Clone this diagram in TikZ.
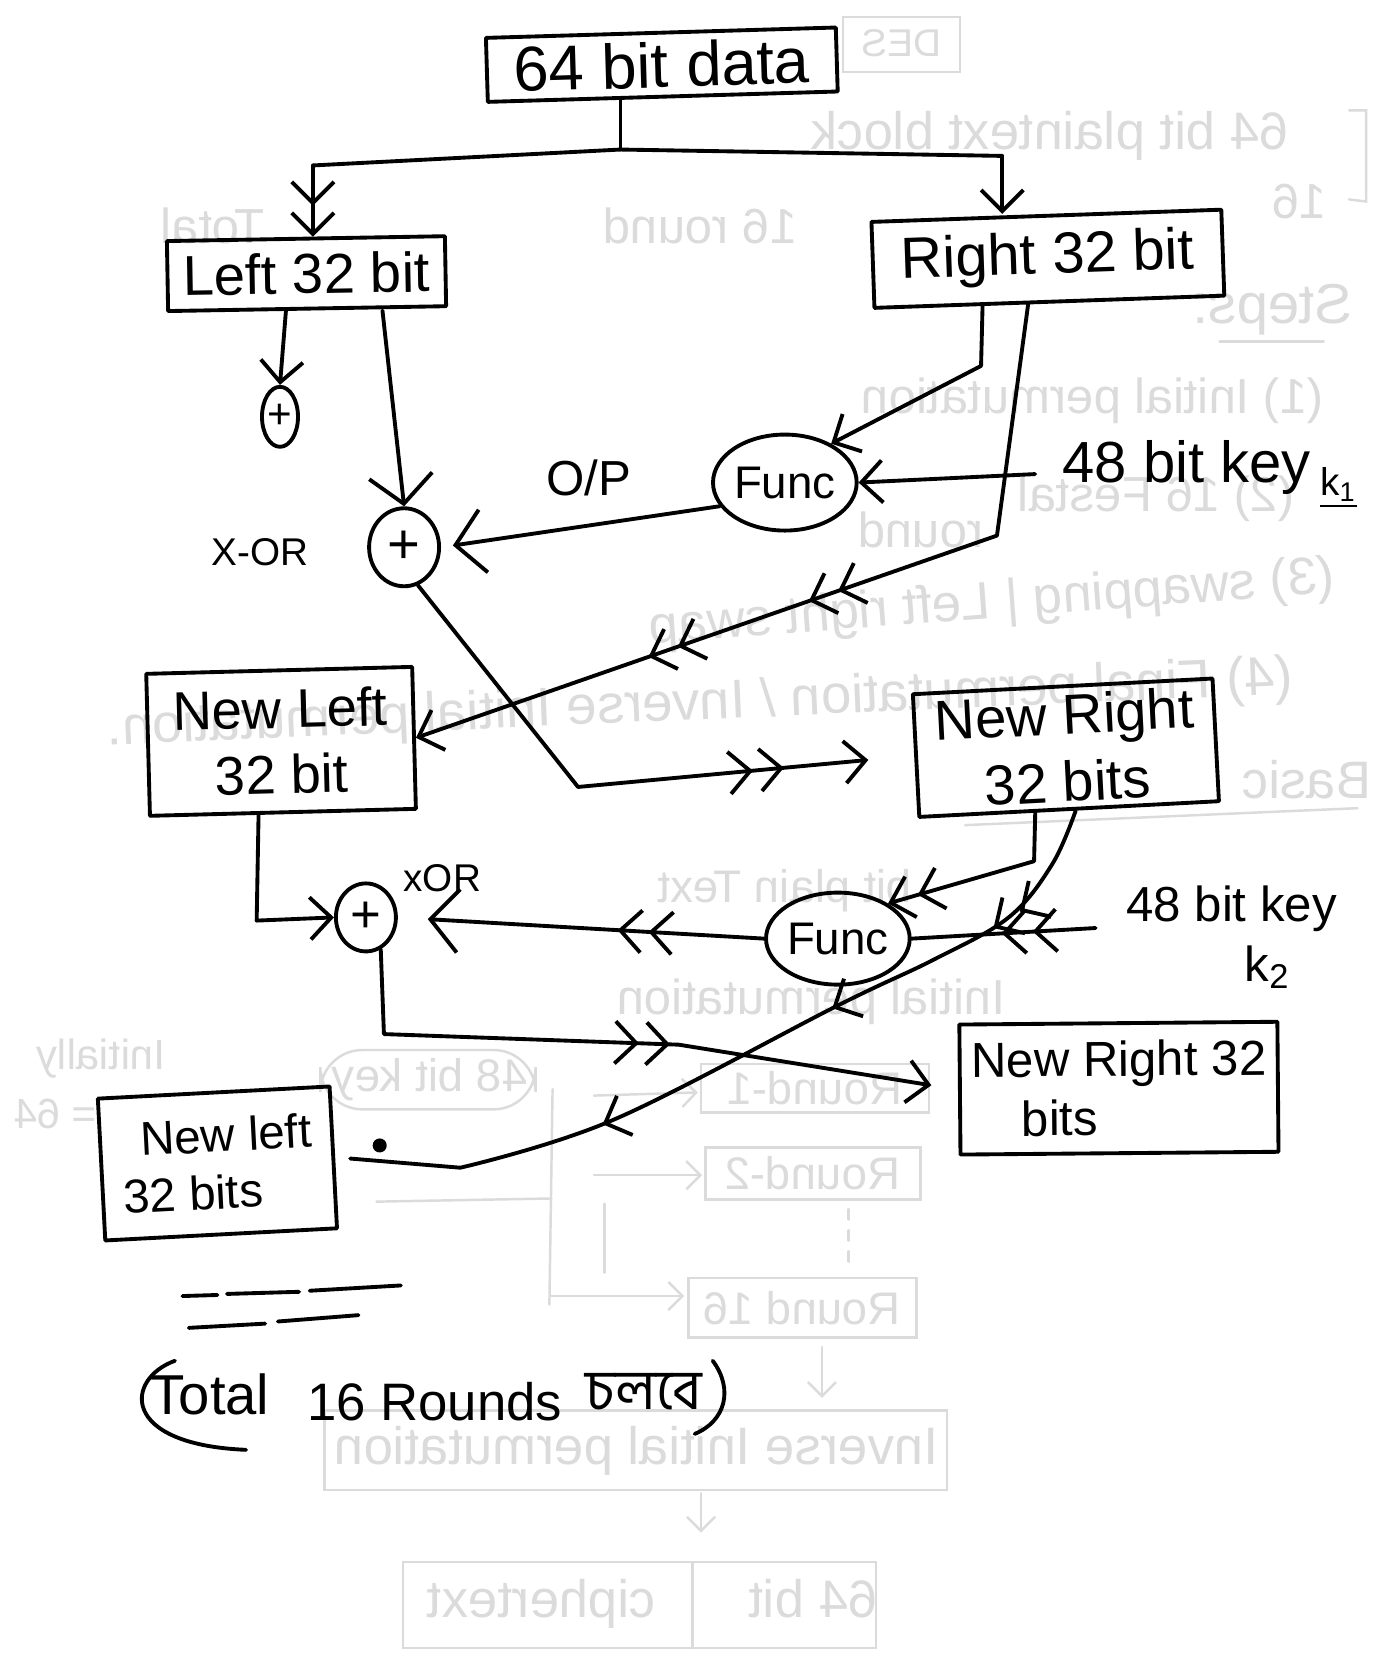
\documentclass[tikz,border=0pt]{standalone}
\usepackage{fontspec}
\setmainfont{Liberation Sans}
\newfontfamily\bnfont[Script=Bengali]{Hind Siliguri}
\usepackage{graphicx}
\usetikzlibrary{arrows.meta,calc,shapes.geometric,decorations.markings}

\definecolor{ghost}{gray}{0.86}
\tikzset{
  fs/.style={font=\fontsize{#1pt}{\dimexpr #1pt*6/5\relax}\selectfont},
  ink/.style={line width=1.1pt, line cap=round, line join=round},
  box/.style={draw, ink, rectangle, inner sep=2pt, align=center},
  ring/.style={draw, ink, ellipse, inner sep=0pt},
  lbl/.style={inner sep=1pt},
  gh/.style={draw=ghost, line width=0.7pt, line cap=round},
  gtext/.style={text=ghost, inner sep=0pt},
  hd/.tip={Straight Barb[length=6pt,width=12pt]},
  big/.tip={Straight Barb[length=8pt,width=18pt]},
  dbl/.tip={Straight Barb[length=6pt,width=12pt,sep=1.5pt]Straight Barb[length=6pt,width=12pt]},
  chev/.style={postaction={decorate,decoration={markings,mark=at position #1 with {\arrow{dbl}}}}},
  one/.style={postaction={decorate,decoration={markings,mark=at position #1 with {\arrow{hd}}}}},
}

\begin{document}
\begin{tikzpicture}[x=0.0106cm, y=-0.0106cm]
\fill[white] (0,0) rectangle (1296,1568);
\useasboundingbox (0,0) rectangle (1296,1568);

% ---------- faint notes showing through from the back of the sheet ----------
\draw[gh] (795,16) rectangle (905,68);
\node[gtext, fs=11] (gdes) at (850,41) {\reflectbox{DES}};
\node[gtext, fs=15] (gplain) at (990,128) {\reflectbox{64 bit plaintext block}};
\draw[gh] (1272,104) -- (1288,104) -- (1288,190) -- (1272,188);
\node[gtext, fs=14] (gsixteen) at (1225,190) {\reflectbox{16}};
\node[gtext, fs=14] (gtotal) at (660,213) {\reflectbox{16 round}};
\node[gtext, fs=14] (gtotal2) at (200,213) {\reflectbox{Total}};
\node[gtext, fs=16] (gsteps) at (1200,292) {\reflectbox{Steps:}};
\draw[gh] (1150,322) -- (1248,322);
\node[gtext, fs=14] (gip) at (1030,378) {\reflectbox{(1) Initial permutation}};
\node[gtext, fs=14] (gfr) at (1090,470) {\reflectbox{(2) 16 Festal}};
\node[gtext, fs=14] (grnd) at (868,500) {\reflectbox{round}};
\node[gtext, fs=15, rotate=4.3] (gswap) at (935,570) {\reflectbox{(3) swapping | Left right swap}};
\node[gtext, fs=15.5, rotate=2.5] (gfp) at (660,665) {\reflectbox{(4) Final permutation / Inverse Initial permutation.}};
\node[gtext, fs=15] (gbasic) at (1232,735) {\reflectbox{Basic}};
\draw[gh] (910,778) -- (1280,762);
\node[gtext, fs=13] (gpt) at (740,840) {\reflectbox{bit plain Text}};
\node[gtext, fs=14] (ginit) at (765,945) {\reflectbox{Initial permutation}};
\node[gtext, fs=12] (ginitially) at (95,998) {\reflectbox{Initially}};
\node[gtext, fs=12] (geq) at (52,1050) {\reflectbox{= 64}};
\draw[gh, rounded corners=12pt] (302,990) rectangle (505,1046);
\node[gtext, fs=13] (gkey) at (405,1018) {\reflectbox{48 bit key}};
\draw[gh] (661,1003) rectangle (876,1049);
\node[gtext, fs=13] (gr1) at (768,1026) {\reflectbox{Round-1}};
\draw[gh] (665,1082) rectangle (868,1131);
\node[gtext, fs=13] (gr2) at (766,1106) {\reflectbox{Round-2}};
\draw[gh] (649,1205) rectangle (864,1261);
\node[gtext, fs=13] (gr16) at (756,1233) {\reflectbox{Round 16}};
\draw[gh] (306,1330) rectangle (893,1405);
\node[gtext, fs=15] (ginv) at (600,1368) {\reflectbox{Inverse Initial permutation}};
\draw[gh] (380,1473) rectangle (826,1554);
\draw[gh] (653,1473) -- (653,1554);
\node[gtext, fs=15] (gct) at (615,1512) {\reflectbox{64 bit \hspace{1.2em} ciphertext}};
\draw[gh] (521,1027) -- (518,1230);
\draw[gh, -{Straight Barb[length=4pt,width=8pt]}] (560,1033) -- (658,1030);
\draw[gh, -{Straight Barb[length=4pt,width=8pt]}] (560,1108) -- (662,1108);
\draw[gh] (355,1133) -- (520,1130);
\draw[gh, -{Straight Barb[length=4pt,width=8pt]}] (520,1222) -- (645,1222);
\draw[gh] (570,1135) -- (570,1200);
\draw[gh, dashed] (800,1140) -- (800,1195);
\draw[gh, -{Straight Barb[length=4pt,width=8pt]}] (775,1270) -- (775,1318);
\draw[gh, -{Straight Barb[length=4pt,width=8pt]}] (661,1408) -- (661,1445);

% ---------- blocks ----------
\node[box, rotate=1.7, minimum width=3.50cm, minimum height=0.64cm, fs=18] (data) at (624,61) {64 bit data};
\node[box, rotate=1, minimum width=2.78cm, minimum height=0.70cm, fs=16] (left) at (289,258) {Left 32 bit};
\node[box, rotate=2, minimum width=3.50cm, minimum height=0.86cm, fs=16.5] (right) at (988,244) {Right 32 bit};
\node[box, rotate=1.5, minimum width=2.66cm, minimum height=1.42cm, fs=15.5] (nl1) at (265,699) {New Left\\32 bit};
\node[box, rotate=3, minimum width=3.00cm, minimum height=1.17cm, fs=16] (nr1) at (1005,705) {New Right\\32 bits};
\node[box, rotate=0.5, minimum width=3.18cm, minimum height=1.30cm, fs=14, align=left] (nr2) at (1055,1026) {New Right 32\\\hspace*{0.5cm}bits};
\node[box, rotate=3, minimum width=2.32cm, minimum height=1.42cm, fs=13.5, align=left] (nl2) at (205,1097) {\hspace*{0.2cm}New left\\32 bits};

% ---------- XOR rings and round functions ----------
\node[ring, minimum width=0.70cm, minimum height=0.78cm, fs=16] (x1) at (381,516) {+};
\node[ring, minimum width=0.60cm, minimum height=0.68cm, fs=15] (x2) at (345,865) {+};
\node[ring, minimum width=1.28cm, minimum height=0.96cm, fs=13] (f1) at (740,455) {Func};
\node[ring, minimum width=1.40cm, minimum height=0.92cm, fs=13] (f2) at (790,885) {Func};
\node[ring, minimum width=0.36cm, minimum height=0.60cm, fs=12] (sx) at (264,393) {+};

% ---------- labels ----------
\node[lbl, fs=11] (xl1) at (245,521) {X-OR};
\node[lbl, fs=11] (xl2) at (417,828) {xOR};
\node[lbl, fs=14] (op) at (555,451) {O/P};
\node[lbl, fs=16.5, anchor=west] (k1) at (998,441) {48 bit key};
\node[lbl, fs=11] (k1s) at (1262,460) {\underline{k\textsubscript{1}}};
\node[lbl, fs=14, anchor=west] (k2) at (1058,857) {48 bit key};
\node[lbl, fs=14] (k2s) at (1195,912) {k\textsubscript{2}};
\node[lbl, fs=16] (tot) at (198,1315) {Total};
\node[lbl, fs=15] (rnd) at (410,1322) {16 Rounds};
\node[lbl, fs=16] (bn) at (607,1312) {\bnfont চলবে};
\draw[ink] (165,1283) .. controls (118,1300) and (112,1362) .. (232,1367);
\draw[ink] (672,1283) .. controls (692,1310) and (684,1340) .. (655,1352);

% ---------- split of the 64 bit block ----------
\coordinate (split) at (585,141);
\coordinate (jl) at (295,156);
\coordinate (jr) at (945,147);
\draw[ink] (data.south -| split) -- (split);
\draw[ink] (jl) -- (split) -- (jr);
\draw[ink, -dbl] (jl) -- (jl |- left.north);
\draw[ink, -hd] (jr) -- (jr |- right.north);

% ---------- round 1 ----------
\draw[ink, -hd] ($(left.south)+(-20,0)$) -- (sx.north);
\draw[ink, -big] ($(left.south)+(71,0)$) -- (x1.north);
\coordinate (b1) at (925,345);
\draw[ink, -hd] ($(right.south)+(-63,0)$) -- (b1) -- (f1.40);
\draw[ink, -hd] ($(k1.west)+(-22,6)$) -- (f1.east);
\draw[ink, -big, shorten >=0.12cm] (f1.200) -- (x1.east);
\coordinate (b2) at (940,505);
\draw[ink, -hd, chev=0.51, chev=0.71] ($(right.south)+(-20,0)$) -- (b2) -- (nl1.east);
\coordinate (b3) at (545,742);
\draw[ink, -hd, shorten >=0.46cm, chev=0.78] (x1.-70) -- (b3) -- (nr1.west);

% ---------- round 2 ----------
\coordinate (b4) at (242,868);
\draw[ink, -hd] ($(nl1.south)+(-23,0)$) -- (b4) -- (x2.west);
\draw[ink, -big, shorten >=0.3cm, chev=0.4] (f2.west) -- (x2.east);
\draw[ink, chev=0.51] ($(k2.west)+(-25,18)$) -- (f2.east);
\coordinate (b5) at (975,812);
\draw[ink, -dbl] ($(nr1.south)+(-32,0)$) -- (b5) -- (f2.35);
\coordinate (cs) at ($(nr1.south)+(6,0)$);
\draw[ink, shorten >=0.15cm, chev=0.17, one=0.38, one=0.68]
  plot[smooth, tension=0.6] coordinates {(cs) (992,815) (951,865) (880,905) (790,948) (578,1056) (434,1101)} -- (nl2.east);
\coordinate (b6) at (362,975);
\coordinate (b7) at (640,985);
\draw[ink, -hd, shorten >=0.27cm, chev=0.56] (x2.-65) -- (b6) -- (b7) -- (nr2.west);

% ---------- marks beside the lower left block ----------
\fill (358,1080) circle (2pt);
\draw[ink] (172,1222) -- (205,1221) (214,1220) -- (282,1218) (292,1217) -- (378,1212);
\draw[ink] (178,1252) -- (250,1248) (262,1246) -- (338,1240);
\end{tikzpicture}
\end{document}
